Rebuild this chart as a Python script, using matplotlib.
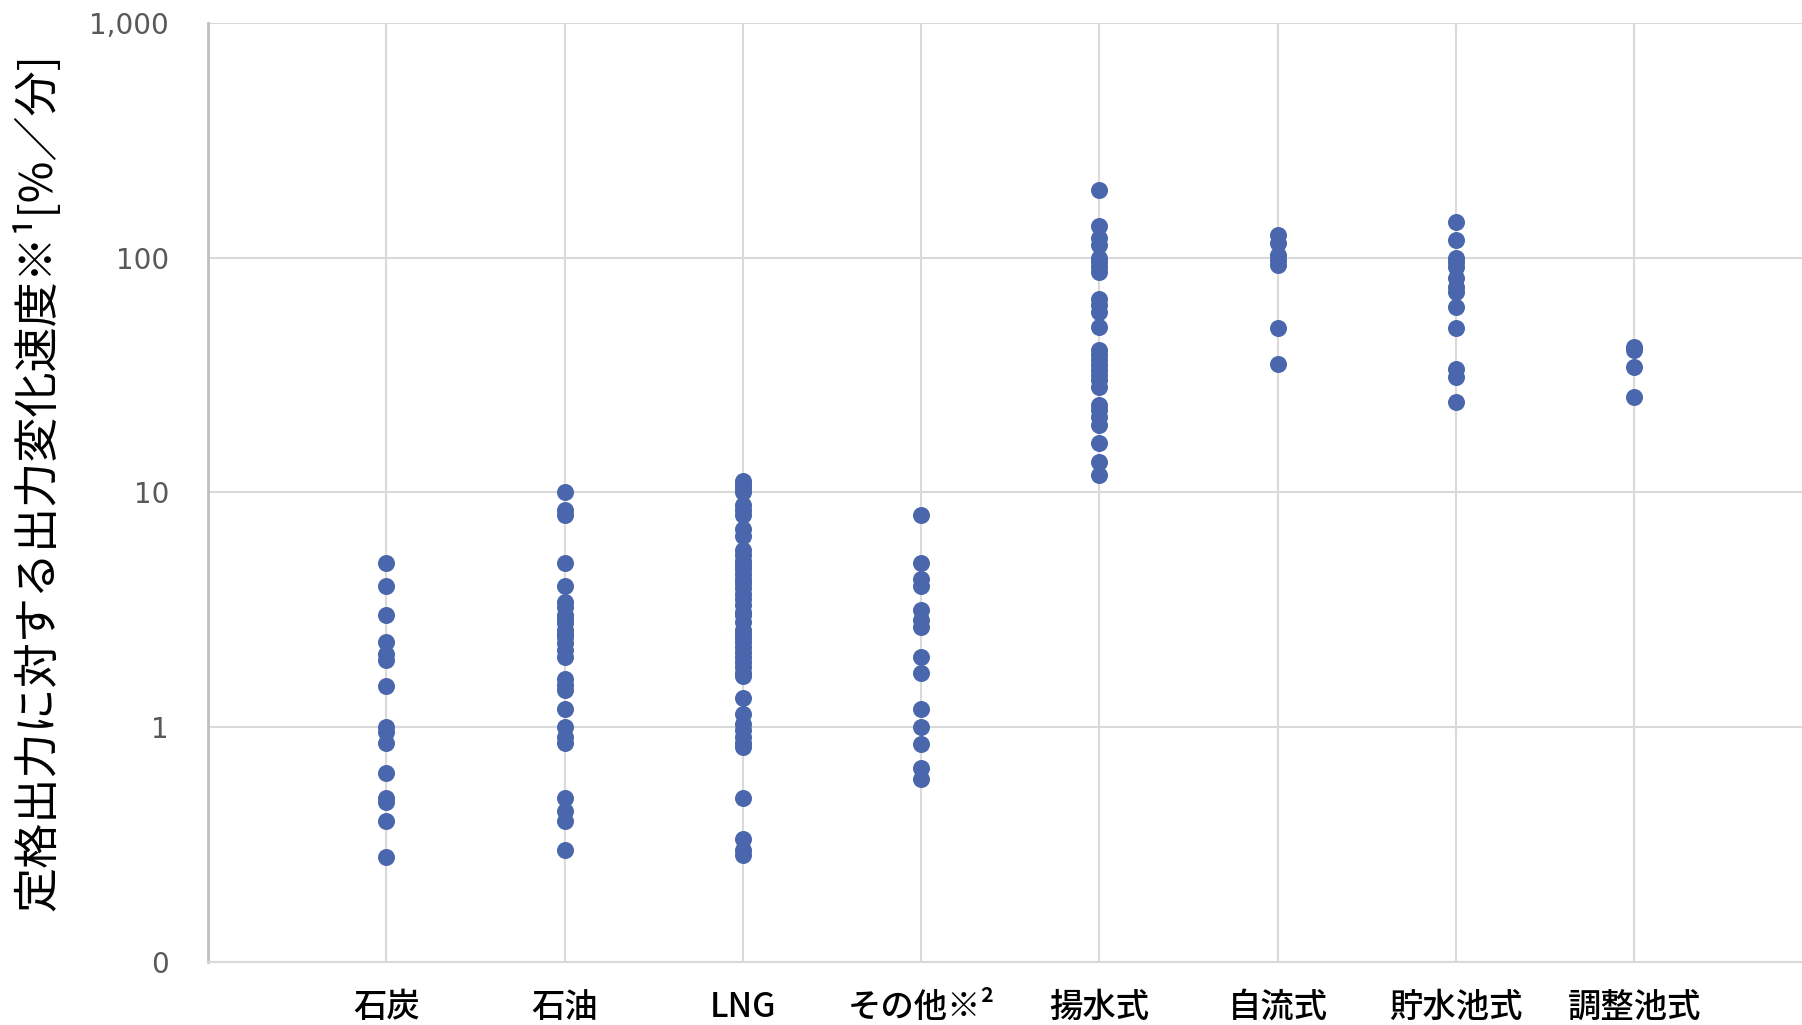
import numpy as np
import matplotlib
matplotlib.use('Agg')
from matplotlib import pyplot as plt

# categories on x axis
categories = ['石炭', '石油', 'LNG', 'その他※²', '揚水式', '自流式', '貯水池式', '調整池式']

# output change rate [%/min] for each category
coal = [5.0, 4.0, 3.0, 2.3, 2.05, 1.93, 1.5, 1.0, 0.95, 0.86, 0.64, 0.5, 0.48, 0.4, 0.28]
oil = [10.0, 8.4, 8.0, 5.0, 4.0, 3.4, 3.25, 3.0, 2.9, 2.77, 2.6, 2.5, 2.43, 2.28, 2.13, 2.0,
       1.6, 1.52, 1.44, 1.2, 1.0, 0.91, 0.86, 0.5, 0.44, 0.4, 0.3]
lng = [11.2, 10.8, 10.4, 10.0, 8.8, 8.4, 8.0, 7.0, 6.5, 5.7, 5.4, 5.1, 4.9, 4.7, 4.5, 4.3,
       4.1, 3.9, 3.7, 3.5, 3.3, 3.1, 3.0, 2.8, 2.6, 2.5, 2.4, 2.3, 2.2, 2.1, 2.0, 1.9, 1.8,
       1.7, 1.65, 1.33, 1.14, 1.03, 0.97, 0.91, 0.86, 0.82, 0.5, 0.335, 0.3, 0.285]
other = [8.0, 5.0, 4.3, 4.0, 3.15, 2.86, 2.68, 2.0, 1.7, 1.2, 1.0, 0.85, 0.67, 0.6]
pumped = [195, 136, 121, 113, 100, 96, 91.5, 87, 67, 63, 59, 50.8, 40.4, 38.5, 36.6, 34.9,
          33.2, 31.6, 30.1, 28.2, 23.5, 22.4, 21, 19.3, 16.3, 13.5, 11.9]
run_of_river = [125, 115, 102.6, 97.7, 93, 50, 35.2]
reservoir = [142, 119, 100, 96, 91.5, 81.6, 75.2, 71.6, 61.4, 50.2, 33.7, 31.1, 24.3]
pondage = [41.7, 40.6, 34.1, 25.5]

series = [coal, oil, lng, other, pumped, run_of_river, reservoir, pondage]

plt.rcParams['font.family'] = ['Noto Sans CJK JP', 'DejaVu Sans']

fig = plt.figure(figsize=(18.02, 10.25), dpi=100)
ax = fig.add_axes([0.1154, 0.0615, 0.8846, 0.9161])

for ii, vals in enumerate(series):
    ax.scatter(np.full(len(vals), ii + 1), vals, s=150, color='#4A66AC', zorder=3, linewidths=0)

ax.set_yscale('log')
ax.set_ylim(0.1, 1000)
ax.set_xlim(0, 8.94)

# y ticks: bottom label shows 0 like the original
ax.set_yticks([0.1, 1, 10, 100, 1000])
ax.set_yticklabels(['0', '1', '10', '100', '1,000'], color='#595959', fontsize=20,
                   family=['DejaVu Sans'])
ax.minorticks_off()
ax.set_xticks(range(1, len(categories) + 1))
ax.set_xticklabels(categories, fontsize=24, fontweight='medium')
ax.tick_params(axis='y', length=0, pad=28)
ax.tick_params(axis='x', length=0, pad=20)

# grid lines
ax.grid(True, which='major', color='#d9d9d9', linewidth=1.5, zorder=0)
ax.set_axisbelow(True)
for side in ['top', 'right']:
    ax.spines[side].set_visible(False)
ax.spines['left'].set_color('#bfbfbf')
ax.spines['left'].set_linewidth(2)
ax.spines['bottom'].set_color('#d9d9d9')
ax.spines['bottom'].set_linewidth(1.5)

fig.text(0.021, 0.53, '定格出力に対する出力変化速度※¹[%／分]', rotation=90,
         fontsize=32.5, ha='center', va='center')

fig.savefig('out.png', dpi=100)
